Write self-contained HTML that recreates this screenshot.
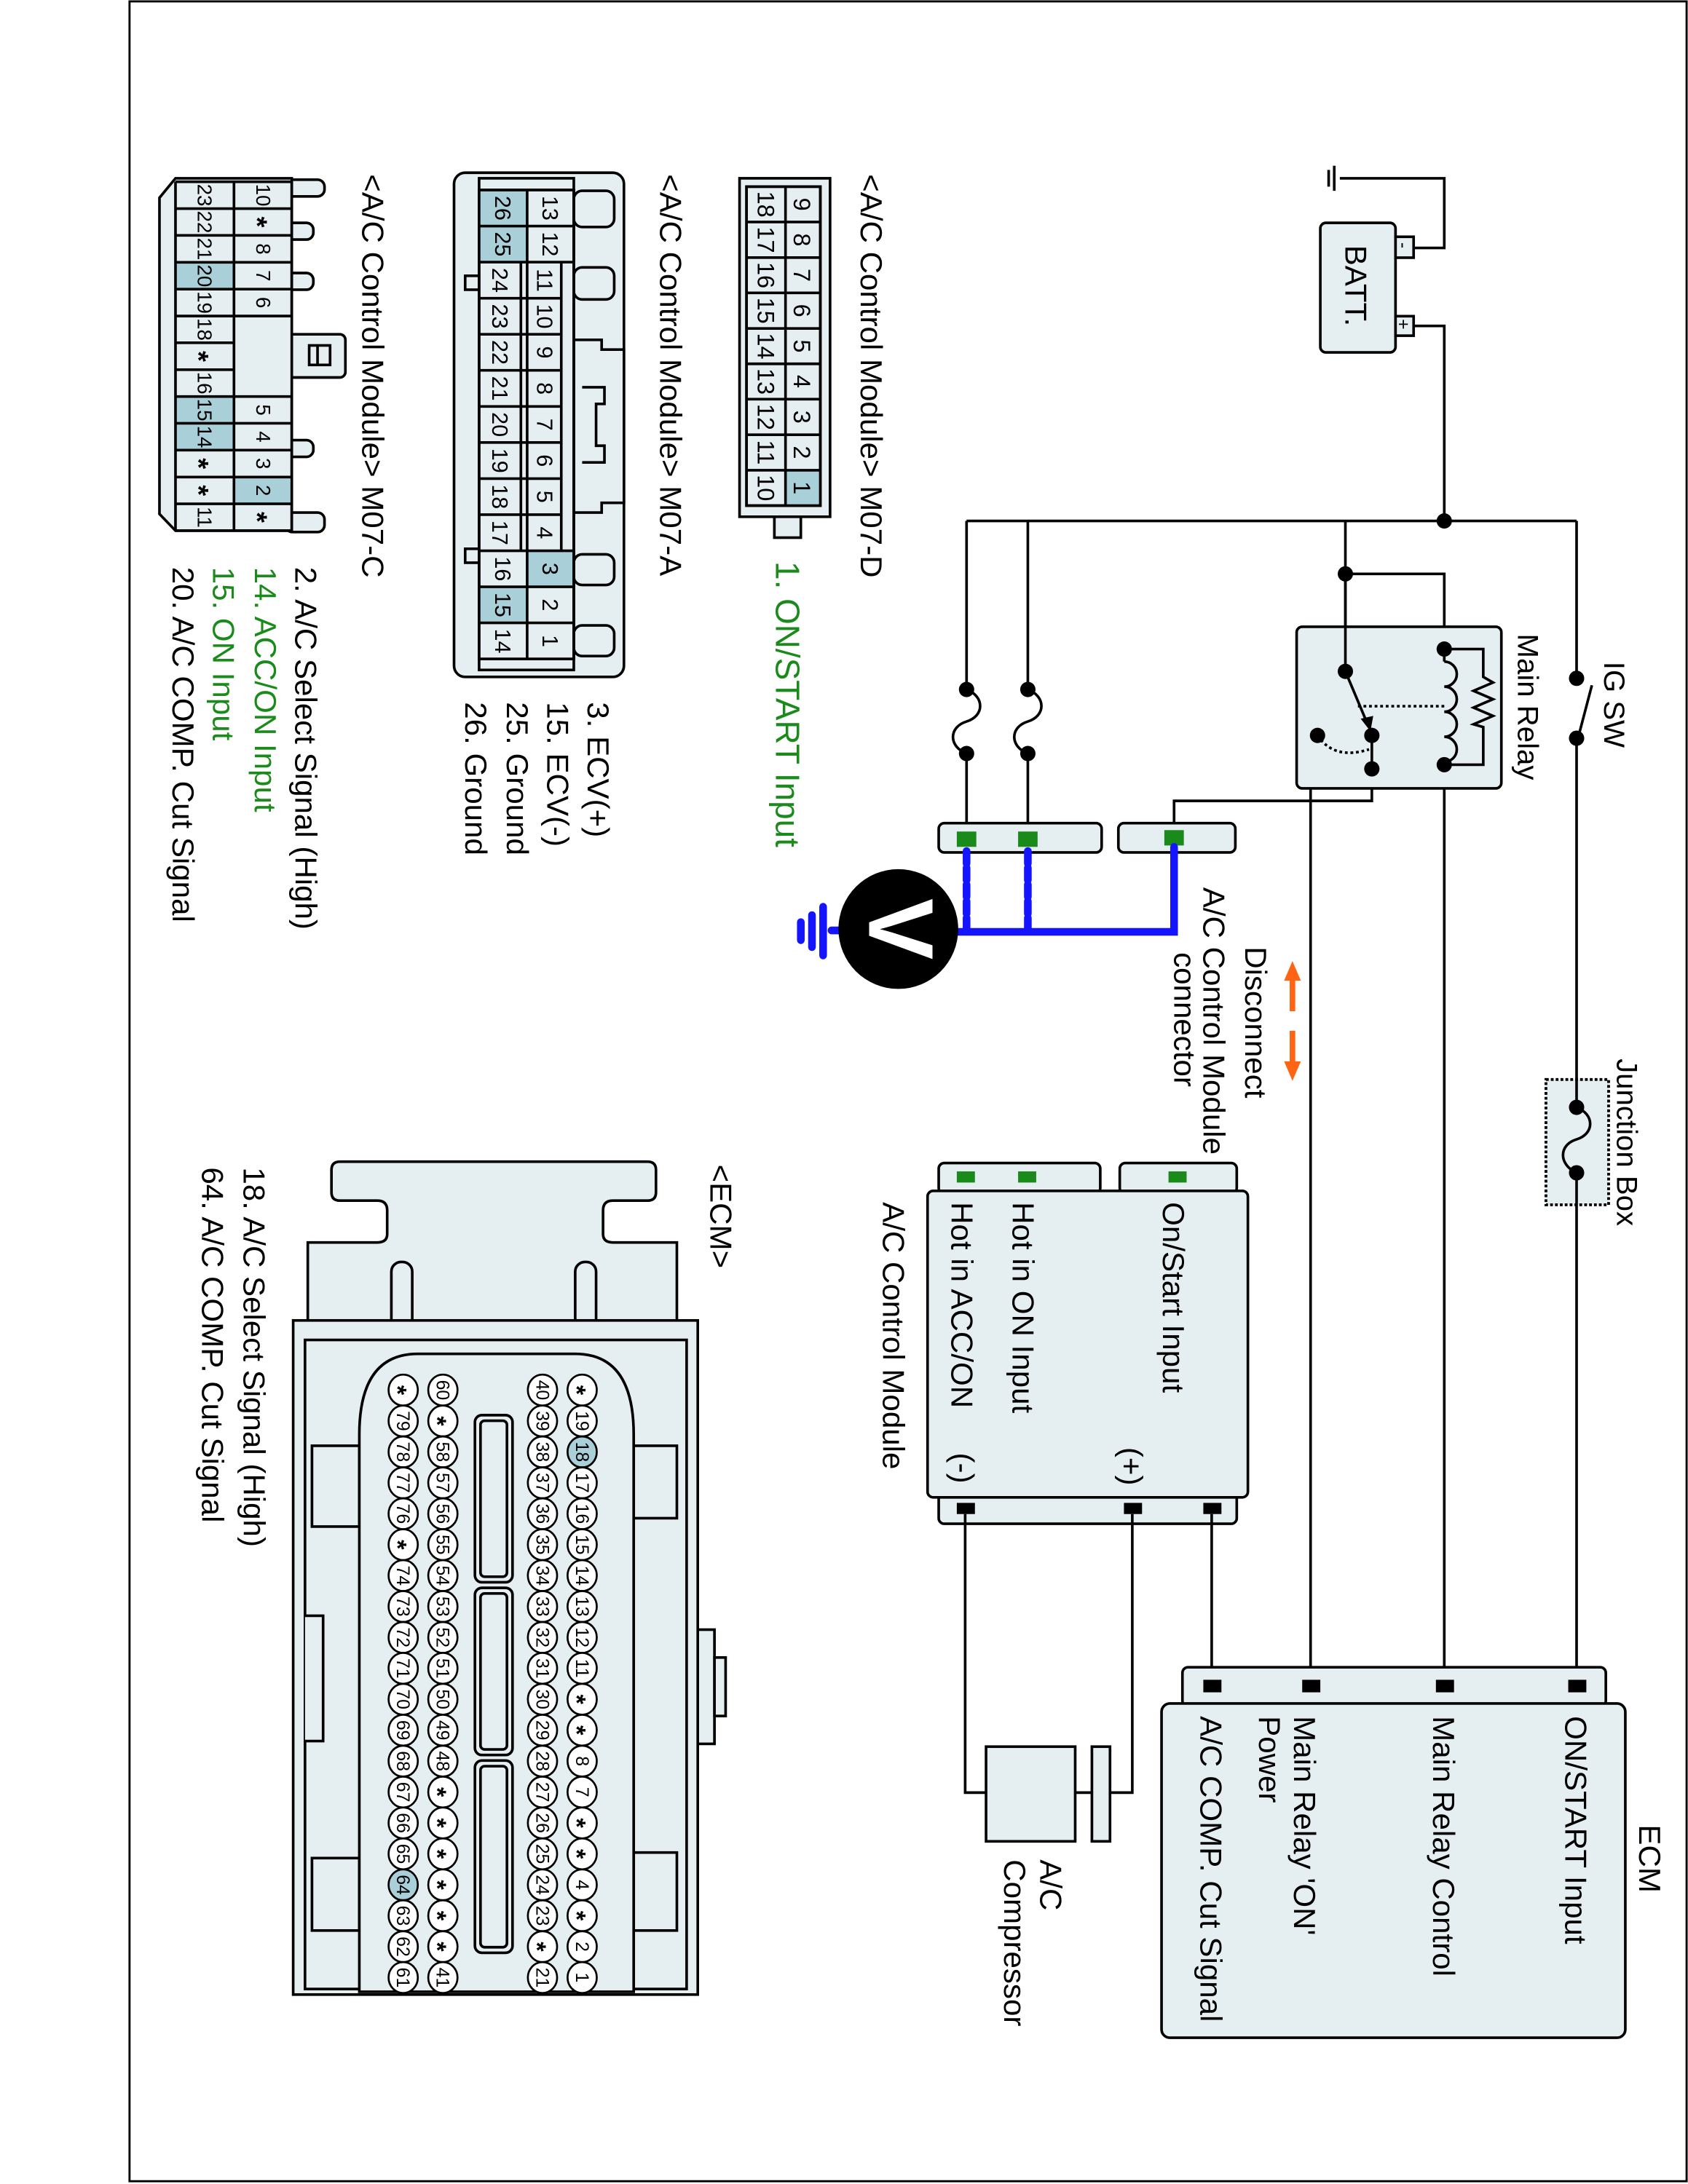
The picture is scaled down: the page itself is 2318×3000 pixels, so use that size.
<!DOCTYPE html>
<html><head><meta charset="utf-8"><style>
html,body{margin:0;padding:0;background:#fff}
svg{display:block}
text{font-family:"Liberation Sans",Arial,sans-serif;fill:#000}
.f{fill:#e5eef0;stroke:#000;stroke-width:1.9}
.w{fill:none;stroke:#000;stroke-width:1.9}
.hl{fill:#a9cfd9}
</style></head><body>
<svg width="2318" height="3000" viewBox="0 0 1212 1568" preserveAspectRatio="none" xmlns="http://www.w3.org/2000/svg">
<rect x="0" y="0" width="1212" height="1568" fill="#fff"/>
<rect x="93" y="1" width="1118" height="1565" fill="none" stroke="#000" stroke-width="1.5"/>

<g class="w">
<line x1="954" y1="122" x2="954" y2="134"/><line x1="958" y1="119" x2="958" y2="137"/>
<path d="M962,128 H1037 V178 H1015"/>
<path d="M1015,234 H1037 V374"/>
<path d="M694,374 H1132"/>
<path d="M966,374 V482"/>
<path d="M966,412 H1037 V466"/>
<path d="M1132,374 V487"/>
<path d="M1133,530 L1143,492"/>
<path d="M1132,530 V795"/>
<path d="M1132,842 V1205"/>
<path d="M694,374 V495"/><path d="M738,374 V495"/>
<path d="M694,541 V598"/><path d="M738,541 V598"/>
<path d="M694,495 C707,500 707,514 694,518 C681,522 681,536 694,541"/>
<path d="M738,495 C751,500 751,514 738,518 C725,522 725,536 738,541"/>
<path d="M1037,549 V1205"/>
<path d="M985,552 H941 V1205"/>
<path d="M985,552 V575 H843 V598"/>
</g>
<rect x="948" y="160" width="54" height="93" rx="4" class="f"/>
<rect x="1002" y="170" width="13" height="15" class="f"/>
<rect x="1002" y="227" width="13" height="14" class="f"/>
<text transform="translate(966,176) rotate(90)" font-size="22">BATT.</text>
<text transform="translate(1003.5,174) rotate(90)" font-size="13">-</text>
<text transform="translate(1003.5,229) rotate(90)" font-size="13">+</text>

<rect x="931" y="450" width="147" height="116" rx="4" class="f" stroke-width="3"/>
<g class="w">
<path d="M966,412 V482"/>
<path d="M1037,466 H1065 V486 L1072,490 L1058,496 L1072,502 L1058,508 L1072,514 L1058,520 L1065,522 V549 H1037"/>
<path d="M1037,475 a9,9 0 0 1 0,18 a9,9 0 0 1 0,18 a9,9 0 0 1 0,18 a9,9 0 0 1 0,18"/>
<path d="M1037,466 V475 M1037,547 V549"/>
<path d="M966,482 L982,520"/>
<path d="M975,507 H1037" stroke-dasharray="2,2"/>
<path d="M946,528 Q958,546 983,538" stroke-dasharray="2,2"/>
<path d="M985,528 V552"/>
</g>
<polygon points="984,525 977,516 986,514" fill="#000"/>
<g fill="#000">
<circle cx="1037" cy="374" r="5.5"/><circle cx="966" cy="412" r="5.5"/>
<circle cx="1037" cy="466" r="5.5"/><circle cx="1037" cy="549" r="5.5"/>
<circle cx="966" cy="482" r="5.5"/><circle cx="985" cy="528" r="5.5"/>
<circle cx="946" cy="528" r="5.5"/><circle cx="985" cy="552" r="5.5"/>
<circle cx="1132" cy="487" r="5.5"/><circle cx="1132" cy="530" r="5.5"/>
<circle cx="694" cy="495" r="5.5"/><circle cx="694" cy="541" r="5.5"/>
<circle cx="738" cy="495" r="5.5"/><circle cx="738" cy="541" r="5.5"/>
</g>
<text transform="translate(1152,475) rotate(90)" font-size="21">IG SW</text>
<text transform="translate(1090,455) rotate(90)" font-size="21">Main Relay</text>
<rect x="1110" y="775" width="45" height="90" fill="#e5eef0" stroke="#000" stroke-width="2" stroke-dasharray="2,1.5"/>
<path d="M1132,775 V795 C1145,800 1145,814 1132,818 C1119,822 1119,836 1132,842 V865" class="w"/>
<circle cx="1132" cy="795" r="5.5"/><circle cx="1132" cy="842" r="5.5"/>
<text transform="translate(1161,760) rotate(90)" font-size="21">Junction Box</text>

<rect x="674" y="591" width="117" height="21" rx="4" class="f"/>
<rect x="803" y="591" width="84" height="21" rx="4" class="f"/>
<g fill="#1a8a1a">
<rect x="687" y="597" width="14" height="11"/><rect x="731" y="597" width="14" height="11"/><rect x="836" y="596" width="14" height="11"/>
</g>
<g stroke="#1414ff" stroke-width="5.5" fill="none" stroke-linecap="round">
<path d="M694,611 V669" stroke-dasharray="9,3"/>
<path d="M738,611 V669" stroke-dasharray="9,3"/>
<path d="M843,608 V669 H686"/>
<path d="M603,668 H597"/>
<path d="M591,651 V686"/><path d="M583,657 V680"/><path d="M575,662 V675"/>
</g>
<circle cx="645" cy="667" r="43" fill="#000"/>
<text transform="translate(624,667) rotate(90)" font-size="66" font-weight="bold" text-anchor="middle" style="fill:#fff">V</text>
<text transform="translate(894,734) rotate(90)" font-size="22" text-anchor="middle">Disconnect</text>
<text transform="translate(864,637) rotate(90)" font-size="22">A/C Control Module</text>
<text transform="translate(843,732) rotate(90)" font-size="22" text-anchor="middle">connector</text>
<g fill="#ff6414" stroke="#ff6414">
<line x1="928" y1="702" x2="928" y2="726" stroke-width="4"/>
<polygon points="928,690 922,704 934,704" stroke="none"/>
<line x1="928" y1="740" x2="928" y2="764" stroke-width="4"/>
<polygon points="928,776 922,762 934,762" stroke="none"/>
</g>

<rect x="674" y="835" width="116" height="22" rx="4" class="f"/>
<rect x="804" y="835" width="84" height="22" rx="4" class="f"/>
<rect x="674" y="1072" width="214" height="22" rx="4" class="f"/>
<rect x="666" y="855" width="230" height="220" rx="4" class="f" stroke-width="3"/>
<g fill="#1a8a1a"><rect x="687" y="841" width="13" height="8"/><rect x="731" y="841" width="13" height="8"/><rect x="839" y="841" width="13" height="8"/></g>
<g fill="#000"><rect x="687" y="1079" width="13" height="8"/><rect x="807" y="1079" width="13" height="8"/><rect x="864" y="1079" width="13" height="8"/></g>
<text transform="translate(835,863) rotate(90)" font-size="22">On/Start Input</text>
<text transform="translate(727,863) rotate(90)" font-size="22">Hot in ON Input</text>
<text transform="translate(683,863) rotate(90)" font-size="22">Hot in ACC/ON</text>
<text transform="translate(805,1039) rotate(90)" font-size="22">(+)</text>
<text transform="translate(684,1043) rotate(90)" font-size="22">(-)</text>
<text transform="translate(634,863) rotate(90)" font-size="22">A/C Control Module</text>
<g class="w">
<path d="M693,1087 V1287 H708"/>
<path d="M813,1087 V1287 H797"/>
<path d="M870,1087 V1205"/>
<path d="M772,1287 H784"/>
</g>
<rect x="708" y="1254" width="64" height="68" class="f" stroke-width="2.2"/>
<rect x="784" y="1254" width="13" height="68" class="f" stroke-width="2.2"/>
<text transform="translate(747,1335) rotate(90)" font-size="22">A/C</text>
<text transform="translate(721,1335) rotate(90)" font-size="22">Compressor</text>

<rect x="849" y="1197" width="304" height="28" rx="4" class="f"/>
<rect x="834" y="1223" width="333" height="240" rx="6" class="f" stroke-width="3"/>
<g fill="#000"><rect x="864" y="1206" width="13" height="9"/><rect x="935" y="1206" width="13" height="9"/><rect x="1031" y="1206" width="13" height="9"/><rect x="1126" y="1206" width="13" height="9"/></g>
<text transform="translate(1177,1310) rotate(90)" font-size="22">ECM</text>
<text transform="translate(1124,1232) rotate(90)" font-size="22">ON/START Input</text>
<text transform="translate(1029,1232) rotate(90)" font-size="22">Main Relay Control</text>
<text transform="translate(929,1232) rotate(90)" font-size="22">Main Relay 'ON'</text>
<text transform="translate(904,1232) rotate(90)" font-size="22">Power</text>
<text transform="translate(862,1232) rotate(90)" font-size="22">A/C COMP. Cut Signal</text>

<!-- M07-D -->
<rect x="556" y="366" width="19" height="20" class="f"/>
<rect x="531" y="128" width="65" height="243" class="f"/>
<rect x="536" y="134" width="53" height="229" class="f"/>
<rect x="564" y="337.6" width="24.6" height="25.4" class="hl"/>
<g class="w">
<line x1="564" y1="134" x2="564" y2="363"/>
<path d="M536,159.4H589M536,184.9H589M536,210.3H589M536,235.8H589M536,261.2H589M536,286.6H589M536,312.1H589M536,337.6H589"/>
<rect x="536" y="134" width="53" height="229"/>
</g>
<g font-size="17" text-anchor="middle">
<text transform="translate(570,146.7) rotate(90)">9</text><text transform="translate(570,172.2) rotate(90)">8</text><text transform="translate(570,197.6) rotate(90)">7</text><text transform="translate(570,223) rotate(90)">6</text><text transform="translate(570,248.5) rotate(90)">5</text><text transform="translate(570,273.9) rotate(90)">4</text><text transform="translate(570,299.4) rotate(90)">3</text><text transform="translate(570,324.8) rotate(90)">2</text><text transform="translate(570,350.3) rotate(90)">1</text>
<text transform="translate(544,146.7) rotate(90)">18</text><text transform="translate(544,172.2) rotate(90)">17</text><text transform="translate(544,197.6) rotate(90)">16</text><text transform="translate(544,223) rotate(90)">15</text><text transform="translate(544,248.5) rotate(90)">14</text><text transform="translate(544,273.9) rotate(90)">13</text><text transform="translate(544,299.4) rotate(90)">12</text><text transform="translate(544,324.8) rotate(90)">11</text><text transform="translate(544,350.3) rotate(90)">10</text>
</g>
<text transform="translate(618,125) rotate(90)" font-size="22">&lt;A/C Control Module&gt; M07-D</text>
<text transform="translate(557,403) rotate(90)" font-size="24" style="fill:#1a8a1a">1. ON/START Input</text>

<!-- M07-A -->
<rect x="326" y="124" width="122" height="362" rx="8" class="f"/>
<g class="f">
<rect x="412" y="137" width="29" height="26" rx="6"/><rect x="412" y="192" width="29" height="23" rx="6"/>
<rect x="412" y="398" width="29" height="22" rx="6"/><rect x="412" y="449" width="29" height="22" rx="6"/>
<path d="M412,244 H432 V251 H448 V361 H432 V368 H412 Z"/>
<path d="M418,278 H434 V290 H428 V320 H434 V332 H418"/>
<rect x="334" y="198" width="10" height="10"/><rect x="334" y="394" width="10" height="10"/>
<rect x="344" y="128" width="68" height="353"/>
</g>
<g class="hl"><rect x="344" y="136.4" width="34.5" height="51.8"/><rect x="378.5" y="395.4" width="33.5" height="25.9"/><rect x="344" y="421.3" width="34.5" height="25.9"/></g>
<g class="w">
<path d="M344,136.4 H412 M344,162.3 H412 M344,188.2 H412 M344,214.1 H403 M344,240 H403 M344,265.9 H403 M344,291.8 H403 M344,317.7 H403 M344,343.6 H403 M344,369.5 H403 M344,395.4 H412 M344,421.3 H412 M344,447.2 H412 M344,473.1 H412"/>
<path d="M378.5,136.4 V473.1 M403,188.2 V395.4 M412,136.4 V188.2 M412,395.4 V473.1 M374,188.2 V395.4"/>
<rect x="344" y="136.4" width="68" height="336.7"/>
</g>
<g font-size="16" text-anchor="middle">
<text transform="translate(389.5,149.4) rotate(90)">13</text><text transform="translate(389.5,175.3) rotate(90)">12</text><text transform="translate(385.5,201.2) rotate(90)">11</text><text transform="translate(385.5,227.1) rotate(90)">10</text><text transform="translate(385.5,253) rotate(90)">9</text><text transform="translate(385.5,278.9) rotate(90)">8</text><text transform="translate(385.5,304.8) rotate(90)">7</text><text transform="translate(385.5,330.7) rotate(90)">6</text><text transform="translate(385.5,356.6) rotate(90)">5</text><text transform="translate(385.5,382.5) rotate(90)">4</text><text transform="translate(389.5,408.4) rotate(90)">3</text><text transform="translate(389.5,434.3) rotate(90)">2</text><text transform="translate(389.5,460.2) rotate(90)">1</text>
<text transform="translate(355.5,149.4) rotate(90)">26</text><text transform="translate(355.5,175.3) rotate(90)">25</text><text transform="translate(353.5,201.2) rotate(90)">24</text><text transform="translate(353.5,227.1) rotate(90)">23</text><text transform="translate(353.5,253) rotate(90)">22</text><text transform="translate(353.5,278.9) rotate(90)">21</text><text transform="translate(353.5,304.8) rotate(90)">20</text><text transform="translate(353.5,330.7) rotate(90)">19</text><text transform="translate(353.5,356.6) rotate(90)">18</text><text transform="translate(353.5,382.5) rotate(90)">17</text><text transform="translate(355.5,408.4) rotate(90)">16</text><text transform="translate(355.5,434.3) rotate(90)">15</text><text transform="translate(355.5,460.2) rotate(90)">14</text>
</g>
<text transform="translate(474,125) rotate(90)" font-size="22">&lt;A/C Control Module&gt; M07-A</text>
<text transform="translate(422,504) rotate(90)" font-size="22">3. ECV(+)</text>
<text transform="translate(393,504) rotate(90)" font-size="22">15. ECV(-)</text>
<text transform="translate(364,504) rotate(90)" font-size="22">25. Ground</text>
<text transform="translate(334,504) rotate(90)" font-size="22">26. Ground</text>

<!-- M07-C -->
<g class="f">
<rect x="205" y="129" width="28" height="12" rx="5"/><rect x="205" y="160" width="20" height="12" rx="5"/><rect x="205" y="196" width="20" height="12" rx="5"/>
<rect x="205" y="316" width="20" height="12" rx="5"/><rect x="205" y="368" width="28" height="14" rx="5"/>
<rect x="205" y="240" width="43" height="31" rx="4"/>
<rect x="168" y="236" width="10" height="14"/><rect x="168" y="262" width="10" height="14"/>
<path d="M126,128 H209.5 V381 H126 L114.5,369 V142 Z"/>
</g>
<rect x="222" y="248" width="15" height="14" class="w"/>
<line x1="228" y1="248" x2="228" y2="262" class="w"/>
<g class="hl"><rect x="126" y="188.3" width="42" height="19.3"/><rect x="126" y="284.7" width="42" height="38.5"/><rect x="168" y="342.5" width="41.5" height="19.2"/></g>
<g class="w">
<path d="M126,130.5 H209.5 M126,149.8 H209.5 M126,169 H209.5 M126,188.3 H209.5 M126,207.6 H209.5 M126,226.9 H209.5 M126,246.1 H168 M126,265.4 H168 M126,284.7 H209.5 M126,303.9 H209.5 M126,323.2 H209.5 M126,342.5 H209.5 M126,361.7 H209.5 M126,381 H209.5"/>
<path d="M126,130.5 V381 M168,130.5 V381 M209.5,130.5 V226.9 M209.5,284.7 V381"/>
</g>
<g font-size="14.5" text-anchor="middle">
<text transform="translate(142,140.1) rotate(90)">23</text><text transform="translate(142,159.4) rotate(90)">22</text><text transform="translate(142,178.7) rotate(90)">21</text><text transform="translate(142,198) rotate(90)">20</text><text transform="translate(142,217.2) rotate(90)">19</text><text transform="translate(142,236.5) rotate(90)">18</text><text transform="translate(142,275) rotate(90)">16</text><text transform="translate(142,294.3) rotate(90)">15</text><text transform="translate(142,313.6) rotate(90)">14</text><text transform="translate(142,371.3) rotate(90)">11</text>
<text transform="translate(184,140.1) rotate(90)">10</text><text transform="translate(184,178.7) rotate(90)">8</text><text transform="translate(184,198) rotate(90)">7</text><text transform="translate(184,217.2) rotate(90)">6</text><text transform="translate(184,294.3) rotate(90)">5</text><text transform="translate(184,313.6) rotate(90)">4</text><text transform="translate(184,332.8) rotate(90)">3</text><text transform="translate(184,352.1) rotate(90)">2</text>
</g>
<g font-size="20" font-weight="bold" text-anchor="middle">
<text transform="translate(178,159.4) rotate(90)">*</text><text transform="translate(178,371.3) rotate(90)">*</text>
<text transform="translate(136,255.8) rotate(90)">*</text><text transform="translate(136,332.8) rotate(90)">*</text><text transform="translate(136,352.1) rotate(90)">*</text>
</g>
<text transform="translate(260,125) rotate(90)" font-size="22">&lt;A/C Control Module&gt; M07-C</text>
<text transform="translate(212,407) rotate(90)" font-size="22">2. A/C Select Signal (High)</text>
<text transform="translate(183,407) rotate(90)" font-size="22" style="fill:#1a8a1a">14. ACC/ON Input</text>
<text transform="translate(153,407) rotate(90)" font-size="22" style="fill:#1a8a1a">15. ON Input</text>
<text transform="translate(124,407) rotate(90)" font-size="22">20. A/C COMP. Cut Signal</text>

<!-- ECM connector -->
<g class="f">
<path d="M238,840 Q238,834 244,834 H465 Q471,834 471,840 V856 Q471,862 465,862 H440 Q433,862 433,869 V886 Q433,892 440,892 H486 V948 H221 V892 H271 Q278,892 278,886 V869 Q278,862 271,862 H244 Q238,862 238,856 Z"/>
<rect x="281" y="906" width="15" height="52" rx="7"/><rect x="413" y="906" width="15" height="52" rx="7"/>
<rect x="501" y="1170" width="12" height="82"/><rect x="513" y="1190" width="8" height="42"/>
<rect x="210.5" y="948" width="290.5" height="484"/>
<rect x="219" y="962" width="274" height="466"/>
<path d="M224,1038 H258 V1096 H224 Z M224,1334 H258 V1386 H224 Z M455,1038 H486 V1090 H455 Z M455,1330 H486 V1386 H455 Z M219,1160 H232 V1250 H219"/>
<path d="M258,1030 Q258,972 300,972 H413 Q455,972 455,1030 V1430 H258 Z"/>
<rect x="341" y="1016" width="27" height="120" rx="5"/><rect x="341" y="1140" width="27" height="120" rx="5"/><rect x="341" y="1264" width="27" height="138" rx="5"/>
</g>
<g class="w"><rect x="345" y="1020" width="19" height="112" rx="3"/><rect x="345" y="1144" width="19" height="112" rx="3"/><rect x="345" y="1268" width="19" height="130" rx="3"/></g>
<g fill="#fff" stroke="#000" stroke-width="1.4">
<ellipse cx="418" cy="998" rx="10.5" ry="11.1"/><ellipse cx="418" cy="1020.2" rx="10.5" ry="11.1"/><ellipse cx="418" cy="1042.4" rx="10.5" ry="11.1" fill="#a9cfd9"/><ellipse cx="418" cy="1064.6" rx="10.5" ry="11.1"/><ellipse cx="418" cy="1086.8" rx="10.5" ry="11.1"/><ellipse cx="418" cy="1109" rx="10.5" ry="11.1"/><ellipse cx="418" cy="1131.2" rx="10.5" ry="11.1"/><ellipse cx="418" cy="1153.4" rx="10.5" ry="11.1"/><ellipse cx="418" cy="1175.6" rx="10.5" ry="11.1"/><ellipse cx="418" cy="1197.8" rx="10.5" ry="11.1"/><ellipse cx="418" cy="1220" rx="10.5" ry="11.1"/><ellipse cx="418" cy="1242.2" rx="10.5" ry="11.1"/><ellipse cx="418" cy="1264.4" rx="10.5" ry="11.1"/><ellipse cx="418" cy="1286.6" rx="10.5" ry="11.1"/><ellipse cx="418" cy="1308.8" rx="10.5" ry="11.1"/><ellipse cx="418" cy="1331" rx="10.5" ry="11.1"/><ellipse cx="418" cy="1353.2" rx="10.5" ry="11.1"/><ellipse cx="418" cy="1375.4" rx="10.5" ry="11.1"/><ellipse cx="418" cy="1397.6" rx="10.5" ry="11.1"/><ellipse cx="418" cy="1419.8" rx="10.5" ry="11.1"/>
<ellipse cx="389.5" cy="998" rx="10.5" ry="11.1"/><ellipse cx="389.5" cy="1020.2" rx="10.5" ry="11.1"/><ellipse cx="389.5" cy="1042.4" rx="10.5" ry="11.1"/><ellipse cx="389.5" cy="1064.6" rx="10.5" ry="11.1"/><ellipse cx="389.5" cy="1086.8" rx="10.5" ry="11.1"/><ellipse cx="389.5" cy="1109" rx="10.5" ry="11.1"/><ellipse cx="389.5" cy="1131.2" rx="10.5" ry="11.1"/><ellipse cx="389.5" cy="1153.4" rx="10.5" ry="11.1"/><ellipse cx="389.5" cy="1175.6" rx="10.5" ry="11.1"/><ellipse cx="389.5" cy="1197.8" rx="10.5" ry="11.1"/><ellipse cx="389.5" cy="1220" rx="10.5" ry="11.1"/><ellipse cx="389.5" cy="1242.2" rx="10.5" ry="11.1"/><ellipse cx="389.5" cy="1264.4" rx="10.5" ry="11.1"/><ellipse cx="389.5" cy="1286.6" rx="10.5" ry="11.1"/><ellipse cx="389.5" cy="1308.8" rx="10.5" ry="11.1"/><ellipse cx="389.5" cy="1331" rx="10.5" ry="11.1"/><ellipse cx="389.5" cy="1353.2" rx="10.5" ry="11.1"/><ellipse cx="389.5" cy="1375.4" rx="10.5" ry="11.1"/><ellipse cx="389.5" cy="1397.6" rx="10.5" ry="11.1"/><ellipse cx="389.5" cy="1419.8" rx="10.5" ry="11.1"/>
<ellipse cx="318" cy="998" rx="10.5" ry="11.1"/><ellipse cx="318" cy="1020.2" rx="10.5" ry="11.1"/><ellipse cx="318" cy="1042.4" rx="10.5" ry="11.1"/><ellipse cx="318" cy="1064.6" rx="10.5" ry="11.1"/><ellipse cx="318" cy="1086.8" rx="10.5" ry="11.1"/><ellipse cx="318" cy="1109" rx="10.5" ry="11.1"/><ellipse cx="318" cy="1131.2" rx="10.5" ry="11.1"/><ellipse cx="318" cy="1153.4" rx="10.5" ry="11.1"/><ellipse cx="318" cy="1175.6" rx="10.5" ry="11.1"/><ellipse cx="318" cy="1197.8" rx="10.5" ry="11.1"/><ellipse cx="318" cy="1220" rx="10.5" ry="11.1"/><ellipse cx="318" cy="1242.2" rx="10.5" ry="11.1"/><ellipse cx="318" cy="1264.4" rx="10.5" ry="11.1"/><ellipse cx="318" cy="1286.6" rx="10.5" ry="11.1"/><ellipse cx="318" cy="1308.8" rx="10.5" ry="11.1"/><ellipse cx="318" cy="1331" rx="10.5" ry="11.1"/><ellipse cx="318" cy="1353.2" rx="10.5" ry="11.1"/><ellipse cx="318" cy="1375.4" rx="10.5" ry="11.1"/><ellipse cx="318" cy="1397.6" rx="10.5" ry="11.1"/><ellipse cx="318" cy="1419.8" rx="10.5" ry="11.1"/>
<ellipse cx="289.5" cy="998" rx="10.5" ry="11.1"/><ellipse cx="289.5" cy="1020.2" rx="10.5" ry="11.1"/><ellipse cx="289.5" cy="1042.4" rx="10.5" ry="11.1"/><ellipse cx="289.5" cy="1064.6" rx="10.5" ry="11.1"/><ellipse cx="289.5" cy="1086.8" rx="10.5" ry="11.1"/><ellipse cx="289.5" cy="1109" rx="10.5" ry="11.1"/><ellipse cx="289.5" cy="1131.2" rx="10.5" ry="11.1"/><ellipse cx="289.5" cy="1153.4" rx="10.5" ry="11.1"/><ellipse cx="289.5" cy="1175.6" rx="10.5" ry="11.1"/><ellipse cx="289.5" cy="1197.8" rx="10.5" ry="11.1"/><ellipse cx="289.5" cy="1220" rx="10.5" ry="11.1"/><ellipse cx="289.5" cy="1242.2" rx="10.5" ry="11.1"/><ellipse cx="289.5" cy="1264.4" rx="10.5" ry="11.1"/><ellipse cx="289.5" cy="1286.6" rx="10.5" ry="11.1"/><ellipse cx="289.5" cy="1308.8" rx="10.5" ry="11.1"/><ellipse cx="289.5" cy="1331" rx="10.5" ry="11.1"/><ellipse cx="289.5" cy="1353.2" rx="10.5" ry="11.1" fill="#a9cfd9"/><ellipse cx="289.5" cy="1375.4" rx="10.5" ry="11.1"/><ellipse cx="289.5" cy="1397.6" rx="10.5" ry="11.1"/><ellipse cx="289.5" cy="1419.8" rx="10.5" ry="11.1"/>
</g>
<g font-size="13" text-anchor="middle">
<text transform="translate(413.5,1020.2) rotate(90)">19</text><text transform="translate(413.5,1042.4) rotate(90)">18</text><text transform="translate(413.5,1064.6) rotate(90)">17</text><text transform="translate(413.5,1086.8) rotate(90)">16</text><text transform="translate(413.5,1109) rotate(90)">15</text><text transform="translate(413.5,1131.2) rotate(90)">14</text><text transform="translate(413.5,1153.4) rotate(90)">13</text><text transform="translate(413.5,1175.6) rotate(90)">12</text><text transform="translate(413.5,1197.8) rotate(90)">11</text><text transform="translate(413.5,1264.4) rotate(90)">8</text><text transform="translate(413.5,1286.6) rotate(90)">7</text><text transform="translate(413.5,1353.2) rotate(90)">4</text><text transform="translate(413.5,1397.6) rotate(90)">2</text><text transform="translate(413.5,1419.8) rotate(90)">1</text>
<text transform="translate(385,998) rotate(90)">40</text><text transform="translate(385,1020.2) rotate(90)">39</text><text transform="translate(385,1042.4) rotate(90)">38</text><text transform="translate(385,1064.6) rotate(90)">37</text><text transform="translate(385,1086.8) rotate(90)">36</text><text transform="translate(385,1109) rotate(90)">35</text><text transform="translate(385,1131.2) rotate(90)">34</text><text transform="translate(385,1153.4) rotate(90)">33</text><text transform="translate(385,1175.6) rotate(90)">32</text><text transform="translate(385,1197.8) rotate(90)">31</text><text transform="translate(385,1220) rotate(90)">30</text><text transform="translate(385,1242.2) rotate(90)">29</text><text transform="translate(385,1264.4) rotate(90)">28</text><text transform="translate(385,1286.6) rotate(90)">27</text><text transform="translate(385,1308.8) rotate(90)">26</text><text transform="translate(385,1331) rotate(90)">25</text><text transform="translate(385,1353.2) rotate(90)">24</text><text transform="translate(385,1375.4) rotate(90)">23</text><text transform="translate(385,1419.8) rotate(90)">21</text>
<text transform="translate(313.5,998) rotate(90)">60</text><text transform="translate(313.5,1042.4) rotate(90)">58</text><text transform="translate(313.5,1064.6) rotate(90)">57</text><text transform="translate(313.5,1086.8) rotate(90)">56</text><text transform="translate(313.5,1109) rotate(90)">55</text><text transform="translate(313.5,1131.2) rotate(90)">54</text><text transform="translate(313.5,1153.4) rotate(90)">53</text><text transform="translate(313.5,1175.6) rotate(90)">52</text><text transform="translate(313.5,1197.8) rotate(90)">51</text><text transform="translate(313.5,1220) rotate(90)">50</text><text transform="translate(313.5,1242.2) rotate(90)">49</text><text transform="translate(313.5,1264.4) rotate(90)">48</text><text transform="translate(313.5,1419.8) rotate(90)">41</text>
<text transform="translate(285,1020.2) rotate(90)">79</text><text transform="translate(285,1042.4) rotate(90)">78</text><text transform="translate(285,1064.6) rotate(90)">77</text><text transform="translate(285,1086.8) rotate(90)">76</text><text transform="translate(285,1131.2) rotate(90)">74</text><text transform="translate(285,1153.4) rotate(90)">73</text><text transform="translate(285,1175.6) rotate(90)">72</text><text transform="translate(285,1197.8) rotate(90)">71</text><text transform="translate(285,1220) rotate(90)">70</text><text transform="translate(285,1242.2) rotate(90)">69</text><text transform="translate(285,1264.4) rotate(90)">68</text><text transform="translate(285,1286.6) rotate(90)">67</text><text transform="translate(285,1308.8) rotate(90)">66</text><text transform="translate(285,1331) rotate(90)">65</text><text transform="translate(285,1353.2) rotate(90)">64</text><text transform="translate(285,1375.4) rotate(90)">63</text><text transform="translate(285,1397.6) rotate(90)">62</text><text transform="translate(285,1419.8) rotate(90)">61</text>
</g>
<g font-size="18" font-weight="bold" text-anchor="middle">
<text transform="translate(408,998) rotate(90)">*</text><text transform="translate(408,1220) rotate(90)">*</text><text transform="translate(408,1242.2) rotate(90)">*</text><text transform="translate(408,1308.8) rotate(90)">*</text><text transform="translate(408,1331) rotate(90)">*</text><text transform="translate(408,1375.4) rotate(90)">*</text>
<text transform="translate(379.5,1397.6) rotate(90)">*</text>
<text transform="translate(308,1020.2) rotate(90)">*</text><text transform="translate(308,1286.6) rotate(90)">*</text><text transform="translate(308,1308.8) rotate(90)">*</text><text transform="translate(308,1331) rotate(90)">*</text><text transform="translate(308,1353.2) rotate(90)">*</text><text transform="translate(308,1375.4) rotate(90)">*</text><text transform="translate(308,1397.6) rotate(90)">*</text>
<text transform="translate(279.5,998) rotate(90)">*</text><text transform="translate(279.5,1109) rotate(90)">*</text>
</g>
<text transform="translate(510,836) rotate(90)" font-size="22">&lt;ECM&gt;</text>
<text transform="translate(175,838) rotate(90)" font-size="22">18. A/C Select Signal (High)</text>
<text transform="translate(145,838) rotate(90)" font-size="22">64. A/C COMP. Cut Signal</text>
</svg>
</body></html>
